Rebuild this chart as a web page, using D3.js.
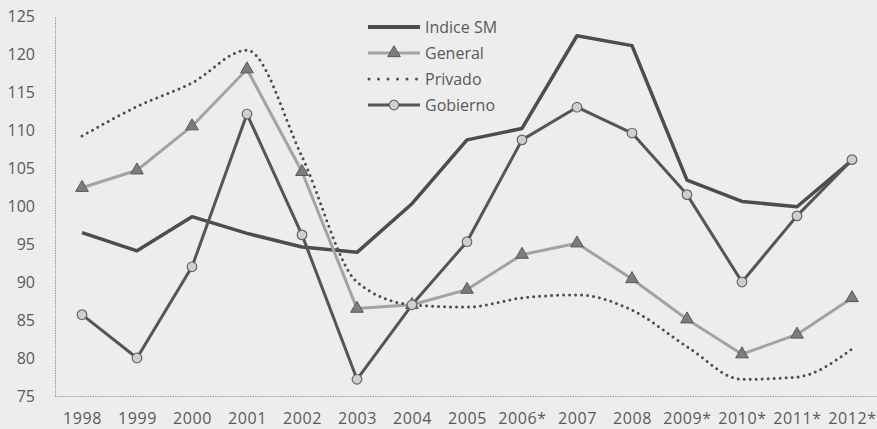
<!DOCTYPE html>
<html>
<head>
<meta charset="utf-8">
<script src="https://cdn.jsdelivr.net/npm/d3@7"></script>
<style>
  html, body { margin: 0; padding: 0; background: #ededed; }
  svg { display: block; }
  text { font-family: "Open Sans", sans-serif; fill: #5a5a5a; }
</style>
</head>
<body>
<svg id="chart" width="877" height="429"></svg>
<script>
const categories = ["1998","1999","2000","2001","2002","2003","2004","2005","2006*","2007","2008","2009*","2010*","2011*","2012*"];
const indiceSM  = [96.5, 94.1, 98.6, 96.4, 94.6, 93.9, 100.3, 108.7, 110.2, 122.4, 121.1, 103.4, 100.6, 99.9, 106.0];
const general   = [102.4, 104.7, 110.5, 118.0, 104.5, 86.5, 87.0, 89.0, 93.6, 95.1, 90.4, 85.1, 80.5, 83.1, 87.9];
const privado   = [109.2, 113.1, 116.2, 120.5, 106.5, 90.0, 87.0, 86.7, 87.9, 88.3, 86.3, 81.5, 77.2, 77.5, 81.2];
const gobierno  = [85.7, 80.0, 92.0, 112.1, 96.2, 77.2, 87.0, 95.3, 108.7, 113.0, 109.6, 101.5, 90.0, 98.7, 106.1];
const yTicks = [75, 80, 85, 90, 95, 100, 105, 110, 115, 120, 125];
const seriesNames = ["Indice SM", "General", "Privado", "Gobierno"];

const svg = d3.select("#chart");
const x = d3.scalePoint().domain(categories).range([82, 852]);
const y = d3.scaleLinear().domain([75, 125]).range([396, 16]);

// axes
const yAxis = svg.append("g").attr("transform", "translate(55,0)")
  .call(d3.axisLeft(y).tickValues(yTicks).tickSize(0).tickPadding(20));
yAxis.select(".domain").attr("stroke", "#9a9a9a").attr("stroke-width", 1).attr("stroke-dasharray", "1.5,1");
yAxis.selectAll("text").style("font-size", "16px").attr("fill", "#5a5a5a");

const xAxis = svg.append("g").attr("transform", "translate(0,396)")
  .call(d3.axisBottom(x).tickSize(0).tickPadding(17));
xAxis.select(".domain").attr("d", "M55,0.5H877").attr("stroke", "#9a9a9a").attr("stroke-width", 1).attr("stroke-dasharray", "1.5,1");
xAxis.selectAll("text").style("font-size", "16px").style("letter-spacing", "0.6px").attr("fill", "#5a5a5a");

const lineGen = d3.line().x((d, i) => x(categories[i])).y(d => y(d));
const smoothGen = d3.line().x((d, i) => x(categories[i])).y(d => y(d)).curve(d3.curveMonotoneX);

// Indice SM
svg.append("path").datum(indiceSM).attr("d", lineGen)
  .attr("fill", "none").attr("stroke", "#4d4d4d").attr("stroke-width", 3.5).attr("stroke-linejoin", "round");

// General
svg.append("path").datum(general).attr("d", lineGen)
  .attr("fill", "none").attr("stroke", "#a3a3a3").attr("stroke-width", 3).attr("stroke-linejoin", "round");
const tri = d3.symbol().type(d3.symbolTriangle).size(70);
svg.append("g").selectAll("path").data(general).join("path")
  .attr("d", tri)
  .attr("transform", (d, i) => `translate(${x(categories[i])},${y(d)})`)
  .attr("fill", "#7c7c7c").attr("stroke", "#5a5a5a").attr("stroke-width", 1);

// Privado
svg.append("path").datum(privado).attr("d", smoothGen)
  .attr("fill", "none").attr("stroke", "#4d4d4d").attr("stroke-width", 3)
  .attr("stroke-linecap", "round").attr("stroke-dasharray", "0,6");

// Gobierno
svg.append("path").datum(gobierno).attr("d", lineGen)
  .attr("fill", "none").attr("stroke", "#555555").attr("stroke-width", 3).attr("stroke-linejoin", "round");
svg.append("g").selectAll("circle").data(gobierno).join("circle")
  .attr("cx", (d, i) => x(categories[i])).attr("cy", d => y(d)).attr("r", 4.8)
  .attr("fill", "#cfcfcf").attr("stroke", "#666").attr("stroke-width", 1.2);

// legend
const legend = svg.append("g");
const rowsY = [27, 53, 79, 105];
const lx0 = 368, lx1 = 420;
seriesNames.forEach((name, i) => {
  const g = legend.append("g").attr("transform", `translate(0,${rowsY[i]})`);
  if (i === 0) {
    g.append("line").attr("x1", lx0).attr("x2", lx1).attr("stroke", "#4d4d4d").attr("stroke-width", 4);
  } else if (i === 1) {
    g.append("line").attr("x1", lx0).attr("x2", lx1).attr("stroke", "#a3a3a3").attr("stroke-width", 3);
    g.append("path").attr("d", tri).attr("transform", `translate(${(lx0 + lx1) / 2},0)`)
      .attr("fill", "#7c7c7c").attr("stroke", "#5a5a5a").attr("stroke-width", 1);
  } else if (i === 2) {
    g.append("line").attr("x1", lx0 + 1).attr("x2", lx1).attr("stroke", "#4d4d4d").attr("stroke-width", 3)
      .attr("stroke-linecap", "round").attr("stroke-dasharray", "0,9.5");
  } else {
    g.append("line").attr("x1", lx0).attr("x2", lx1).attr("stroke", "#555").attr("stroke-width", 3);
    g.append("circle").attr("cx", (lx0 + lx1) / 2).attr("r", 4.8)
      .attr("fill", "#cfcfcf").attr("stroke", "#666").attr("stroke-width", 1.2);
  }
  g.append("text").attr("x", 425).attr("dy", "0.35em").text(name)
    .style("font-size", "16px");
});
</script>
</body>
</html>
